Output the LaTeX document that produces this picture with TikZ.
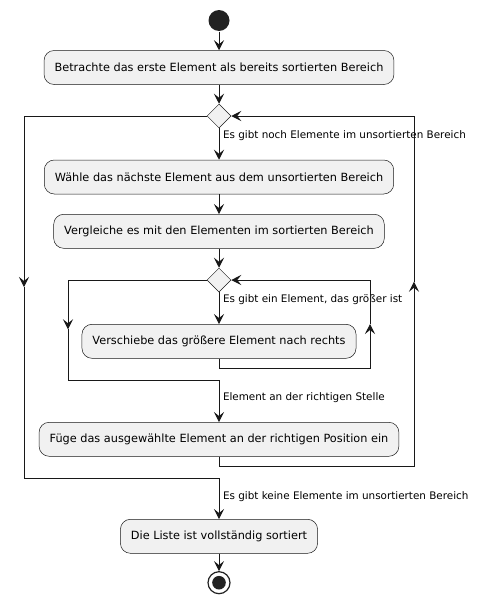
\documentclass[tikz,border=0pt]{standalone}
\usepackage{fontspec}
\setmainfont{DejaVu Sans}
\usetikzlibrary{arrows.meta,positioning,shapes.geometric,calc}
\definecolor{umlline}{HTML}{181818}
\definecolor{umlfill}{HTML}{F1F1F1}
\definecolor{umldot}{HTML}{222222}

\begin{document}
\begin{tikzpicture}[x=1pt,y=1pt,on grid,
    >={Stealth[length=10pt,width=10pt,inset=4pt]},
    color=umlline,line width=1pt,
    act/.style={rectangle,rounded corners=10pt,draw=umlline,line width=0.5pt,
      fill=umlfill,minimum height=34pt,inner xsep=10.5pt,text=black,
      font=\fontsize{11.3}{13}\selectfont},
    decision/.style={diamond,draw=umlline,line width=0.5pt,fill=umlfill,
      minimum width=24pt,minimum height=24pt,inner sep=0pt},
    startdot/.style={circle,fill=umldot,draw=none,minimum size=21pt,inner sep=0pt},
    enddot/.style={circle,draw=umldot,line width=1.2pt,fill=white,minimum size=22pt,
      inner sep=0pt,path picture={\fill[umldot] (path picture bounding box.center) circle (6.8pt);}},
    cond/.style={anchor=west,draw=none,inner sep=3.5pt,text=black,font=\fontsize{10.4}{12}\selectfont}]
   \useasboundingbox (0,0) rectangle (482,-605);
   \node[startdot] (start) at (219,-20.5) {};
   \node[act] (init) [below=47pt of start] {Betrachte das erste Element als bereits sortierten Bereich};
   \node[decision] (outer) [below=48.5pt of init] {};
   \node[act] (pick) [below=61pt of outer] {Wähle das nächste Element aus dem unsortierten Bereich};
   \node[act] (cmp) [below=54.3pt of pick] {Vergleiche es mit den Elementen im sortierten Bereich};
   \node[decision] (inner) [below=48.7pt of cmp] {};
   \node[act] (shift) [below=61.3pt of inner] {Verschiebe das größere Element nach rechts};
   \node[act] (insert) [below=98pt of shift] {Füge das ausgewählte Element an der richtigen Position ein};
   \node[act] (done) [below=97pt of insert] {Die Liste ist vollständig sortiert};
   \node[enddot] (stop) [below=46.4pt of done] {};
   % bends of the loops
   \coordinate (exitL) at ($(outer)+(-195,-171)$);
   \coordinate (exitB) at ($(done.north)+(0,41)$);
   \coordinate (backB) at ($(insert.south)+(0,-9.7)$);
   \coordinate (backR) at ($(outer)+(195,-165.7)$);
   \coordinate (moveL) at ($(inner)+(-151,-49.3)$);
   \coordinate (moveB) at ($(insert.north)+(0,42)$);
   \coordinate (loopB) at ($(shift.south)+(0,-10)$);
   \coordinate (loopR) at ($(inner)+(151,-44)$);
   \draw[->] (start) -- (init);
   \draw[->] (init) -- (outer);
   \draw[->] (outer) -- node[cond,pos=0.25] {Es gibt noch Elemente im unsortierten Bereich} (pick);
   \draw[->] (pick) -- (cmp);
   \draw[->] (cmp) -- (inner);
   \draw[->] (inner) -- node[cond,pos=0.23] {Es gibt ein Element, das größer ist} (shift);
   \draw[->] (shift.south) -- (loopB) -| (loopR);
   \draw[->] (loopR) |- (inner.east);
   \draw[->] (inner.west) -| (moveL);
   \draw (moveL) |- (moveB);
   \draw[->] (moveB) -- node[cond,pos=0.42] {Element an der richtigen Stelle} (insert);
   \draw[->] (insert.south) -- (backB) -| (backR);
   \draw[->] (backR) |- (outer.east);
   \draw[->] (outer.west) -| (exitL);
   \draw (exitL) |- (exitB);
   \draw[->] (exitB) -- node[cond,pos=0.45] {Es gibt keine Elemente im unsortierten Bereich} (done);
   \draw[->] (done) -- (stop);
\end{tikzpicture}
\end{document}
